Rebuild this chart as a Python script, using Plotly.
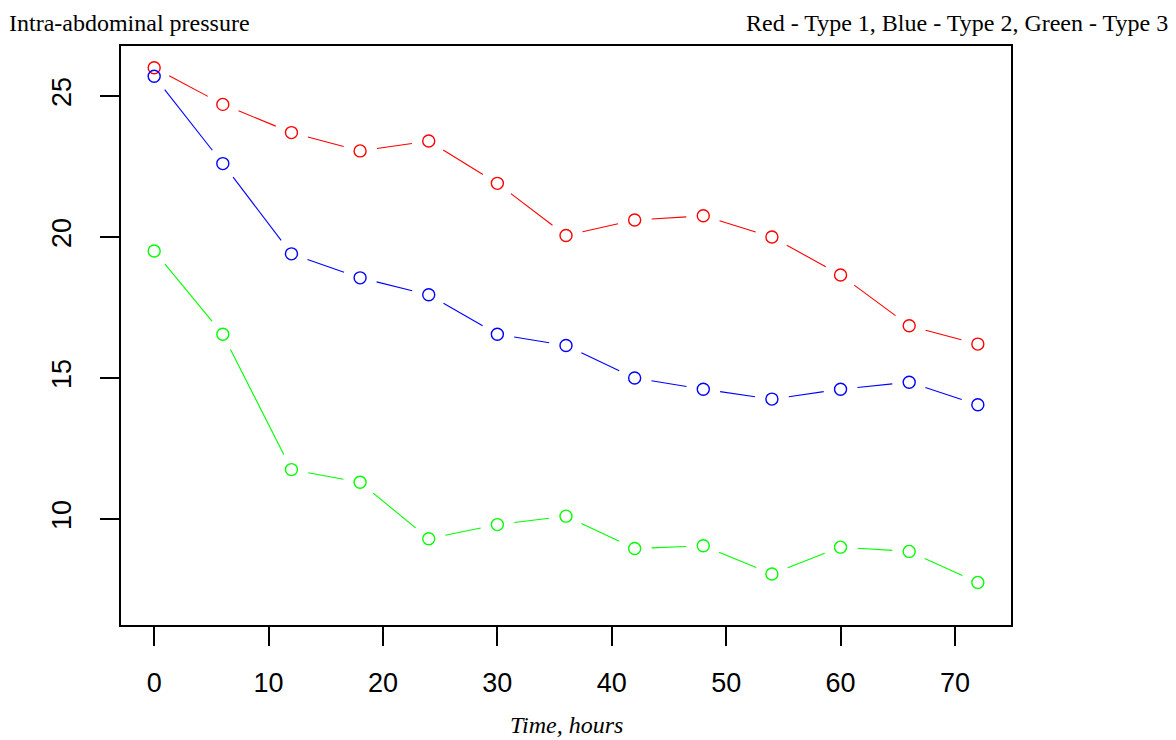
import plotly.graph_objects as go

hours = [0, 6, 12, 18, 24, 30, 36, 42, 48, 54, 60, 66, 72]
type1_red = [26.0, 24.7, 23.7, 23.05, 23.4, 21.9, 20.05, 20.6, 20.75, 20.0, 18.65, 16.85, 16.2]
type2_blue = [25.7, 22.6, 19.4, 18.55, 17.95, 16.55, 16.15, 15.0, 14.6, 14.25, 14.6, 14.85, 14.05]
type3_green = [19.5, 16.55, 11.75, 11.3, 9.3, 9.8, 10.1, 8.95, 9.05, 8.05, 9.0, 8.85, 7.75]
x_ticks = [0, 10, 20, 30, 40, 50, 60, 70]
y_ticks = [10, 15, 20, 25]

series = [
    ("Type 1", type1_red, "#FF0000"),
    ("Type 2", type2_blue, "#0000FF"),
    ("Type 3", type3_green, "#00FF00"),
]

X_RANGE = [-2.9, 74.9]
Y_RANGE = [6.24, 26.77]
W, H = 1168, 732          # page has an 8px body margin, figure sits at (8, 8)
MARGIN = dict(l=113, r=165, t=38, b=115)
PLOT_W = W - MARGIN["l"] - MARGIN["r"]
PLOT_H = H - MARGIN["t"] - MARGIN["b"]
GAP_PX = 17               # R type="b": line segments stop short of the points

kx = PLOT_W / (X_RANGE[1] - X_RANGE[0])
ky = PLOT_H / (Y_RANGE[1] - Y_RANGE[0])

fig = go.Figure()
for name, ys, col in series:
    first = True
    for i in range(len(hours) - 1):
        dx = (hours[i + 1] - hours[i]) * kx
        dy = (ys[i + 1] - ys[i]) * ky
        L = (dx * dx + dy * dy) ** 0.5
        f = GAP_PX / L
        x0 = hours[i] + f * (hours[i + 1] - hours[i])
        x1 = hours[i + 1] - f * (hours[i + 1] - hours[i])
        y0 = ys[i] + f * (ys[i + 1] - ys[i])
        y1 = ys[i + 1] - f * (ys[i + 1] - ys[i])
        fig.add_trace(go.Scatter(x=[x0, x1], y=[y0, y1], mode="lines",
                                 line=dict(color=col, width=1.1),
                                 showlegend=False, hoverinfo="skip"))
for name, ys, col in series:
    fig.add_trace(go.Scatter(x=hours, y=ys, mode="markers", name=name,
                             marker=dict(symbol="circle-open", color=col, size=12,
                                         line=dict(width=1.4, color=col)),
                             showlegend=False))

axis_common = dict(
    showgrid=False, zeroline=False, showline=True, linecolor="#000", linewidth=1.5,
    mirror=True, ticks="outside", ticklen=19, tickwidth=1.5, tickcolor="#000",
    tickfont=dict(family="Liberation Sans, Arial, sans-serif", size=27, color="#000"),
)

fig.update_layout(
    width=W, height=H,
    paper_bgcolor="white", plot_bgcolor="white",
    margin=MARGIN,
    xaxis=dict(range=X_RANGE, tickvals=x_ticks, ticklabelstandoff=14, **axis_common),
    yaxis=dict(range=Y_RANGE, tickvals=y_ticks, tickangle=-90, ticklabelstandoff=18, **axis_common),
    title=dict(text="Intra-abdominal pressure", xref="container", yref="container",
               x=1 / W, xanchor="left", y=1 - 15 / H, yanchor="middle",
               font=dict(family="Liberation Serif, Times New Roman, serif", size=24, color="#000")),
    annotations=[
        dict(text="Red - Type 1, Blue - Type 2, Green - Type 3", xref="paper", yref="paper",
             x=(1162 - 113) / PLOT_W, y=1 + 23 / PLOT_H, xanchor="right", yanchor="middle",
             showarrow=False,
             font=dict(family="Liberation Serif, Times New Roman, serif", size=24, color="#000")),
        dict(text="<i>Time, hours</i>", xref="paper", yref="paper",
             x=0.5, y=-(717 - 617) / PLOT_H, xanchor="center", yanchor="middle",
             showarrow=False,
             font=dict(family="Liberation Serif, Times New Roman, serif", size=24, color="#000")),
    ],
)

fig.write_html("out.html")
